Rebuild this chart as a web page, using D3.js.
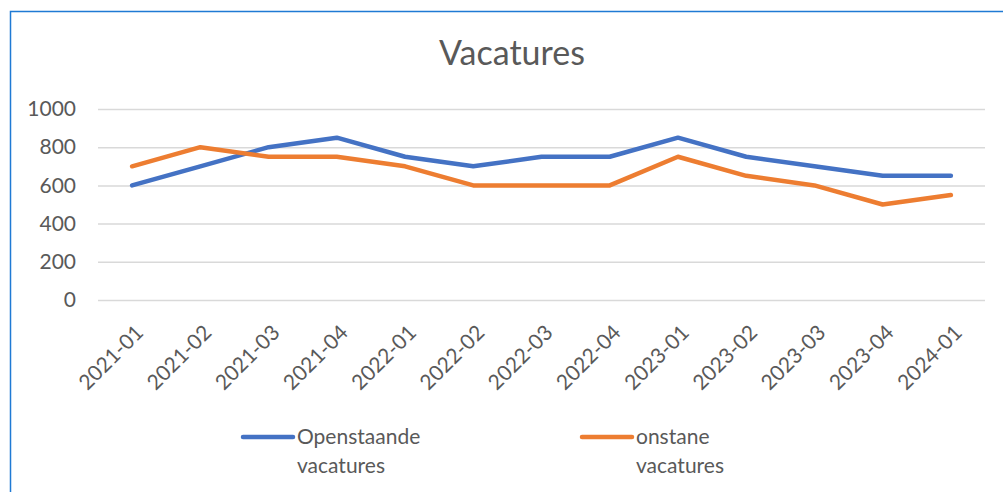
<!DOCTYPE html>
<html>
<head>
<meta charset="utf-8">
<script src="https://cdn.jsdelivr.net/npm/d3@7"></script>
<style>
  body { margin: 0; background: #fff; }
  svg { display: block; font-family: Lato, Calibri, "Open Sans", sans-serif; }
</style>
</head>
<body>
<svg width="1003" height="492"></svg>
<script>
// Chart data
const quarters = ['2021-01', '2021-02', '2021-03', '2021-04', '2022-01', '2022-02', '2022-03',
  '2022-04', '2023-01', '2023-02', '2023-03', '2023-04', '2024-01'];
const openstaande = [600, 700, 800, 850, 750, 700, 750, 750, 850, 750, 700, 650, 650];
const onstane = [700, 800, 750, 750, 700, 600, 600, 600, 750, 650, 600, 500, 550];
const yTicks = [0, 200, 400, 600, 800, 1000];
const seriesNames = [['Openstaande', 'vacatures'], ['onstane', 'vacatures']];
const colors = ['#4472C4', '#ED7D31'];

const svg = d3.select('svg');
const margin = { top: 109, right: 18, bottom: 192, left: 98 };
const width = +svg.attr('width');
const height = +svg.attr('height');
const innerWidth = width - margin.left - margin.right;
const innerHeight = height - margin.top - margin.bottom;

// Outer border (only top and left edges are inside the frame)
svg.append('path')
  .attr('d', `M10.5,${height} L10.5,11.5 L${width},11.5`)
  .attr('fill', 'none')
  .attr('stroke', '#1F7AD4')
  .attr('stroke-width', 1.5);

// Title
svg.append('text')
  .attr('x', 512).attr('y', 65)
  .attr('text-anchor', 'middle')
  .attr('font-size', '34px')
  .attr('fill', '#595959')
  .text('Vacatures');

const g = svg.append('g')
  .attr('transform', `translate(${margin.left},${margin.top})`);

const x = d3.scalePoint().domain(quarters).range([0, innerWidth]).padding(0.5);
const y = d3.scaleLinear().domain([0, 1000]).range([innerHeight, 0]);

// Gridlines + y labels
const yAxis = g.append('g')
  .call(d3.axisLeft(y).tickValues(yTicks).tickFormat(d3.format('d'))
    .tickSize(-innerWidth).tickPadding(22));
yAxis.select('.domain').remove();
yAxis.selectAll('.tick line').attr('stroke', '#D9D9D9').attr('stroke-width', 1.5);
yAxis.selectAll('.tick text')
  .attr('font-size', '21px')
  .attr('fill', '#595959')
  .attr('font-family', 'Lato, Calibri, sans-serif');

// X axis labels
const xAxis = g.append('g')
  .attr('transform', `translate(0,${innerHeight})`)
  .call(d3.axisBottom(x).tickSize(0).tickPadding(0));
xAxis.select('.domain').remove();
xAxis.selectAll('.tick text')
  .attr('font-size', '21px')
  .attr('fill', '#595959')
  .attr('font-family', 'Lato, Calibri, sans-serif')
  .attr('text-anchor', 'end')
  .attr('dy', null)
  .attr('y', 0)
  .attr('transform', 'translate(12,34) rotate(-45)');

// Lines
const line = d3.line()
  .x((d, i) => x(quarters[i]))
  .y((d) => y(d));

[openstaande, onstane].forEach((values, i) => {
  g.append('path')
    .datum(values)
    .attr('fill', 'none')
    .attr('stroke', colors[i])
    .attr('stroke-width', 4.5)
    .attr('stroke-linejoin', 'round')
    .attr('stroke-linecap', 'round')
    .attr('d', line);
});

// Legend
const legendX = [243, 582];
seriesNames.forEach((names, i) => {
  const lg = svg.append('g').attr('transform', `translate(${legendX[i]},437)`);
  lg.append('line')
    .attr('x1', 0).attr('x2', 50)
    .attr('stroke', colors[i])
    .attr('stroke-width', 4.5)
    .attr('stroke-linecap', 'round');
  lg.append('text')
    .attr('x', 54).attr('y', 7)
    .attr('font-size', '21px')
    .attr('fill', '#595959')
    .text(names[0]);
  lg.append('text')
    .attr('x', 54).attr('y', 36)
    .attr('font-size', '21px')
    .attr('fill', '#595959')
    .text(names[1]);
});
</script>
</body>
</html>
